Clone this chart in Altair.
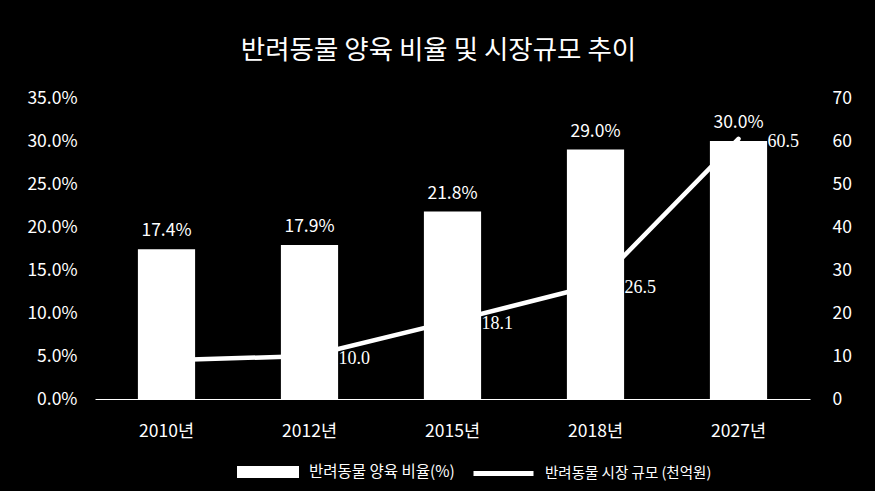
import altair as alt
import pandas as pd

years = ["2010년", "2012년", "2015년", "2018년", "2027년"]
ratio_pct = [17.4, 17.9, 21.8, 29.0, 30.0]
market = [9.0, 10.0, 18.1, 26.5, 60.5]
market_labels = ["", "10.0", "18.1", "26.5", "60.5"]
left_ticks = [0, 0.05, 0.10, 0.15, 0.20, 0.25, 0.30, 0.35]
right_ticks = [0, 10, 20, 30, 40, 50, 60, 70]
title_text = "반려동물 양육 비율 및 시장규모 추이"
series_bar = "반려동물 양육 비율(%)"
series_line = "반려동물 시장 규모 (천억원)"

df = pd.DataFrame({
    "year": years,
    "ratio": [v / 100 for v in ratio_pct],
    "market": market,
    "mlabel": market_labels,
    "s1": [series_bar] * len(years),
    "s2": [series_line] * len(years),
})

FONT = "Noto Sans CJK KR"
FS = 17.5
base = alt.Chart(df)

x = alt.X(
    "year:N", sort=years,
    scale=alt.Scale(paddingInner=0.6, paddingOuter=0.3),
    axis=alt.Axis(title=None, labelAngle=0, labelFontSize=FS, labelPadding=23,
                  ticks=False, domainColor="white", domainWidth=1,
                  labelColor="white", labelFont=FONT),
)

yl = alt.Y(
    "ratio:Q",
    scale=alt.Scale(domain=[0, 0.35], nice=False, zero=True),
    axis=alt.Axis(title=None, format=".1%", values=left_ticks, grid=False,
                  domain=False, ticks=False, labelPadding=18, labelFontSize=FS,
                  labelColor="white", labelFont=FONT),
)

yr = alt.Y(
    "market:Q",
    scale=alt.Scale(domain=[0, 70], nice=False, zero=True),
    axis=alt.Axis(title=None, orient="right", values=right_ticks, grid=False,
                  domain=False, ticks=False, labelPadding=22, labelFontSize=FS,
                  labelColor="white", labelFont=FONT),
)

bars = base.mark_bar().encode(
    x=x, y=yl,
    fill=alt.Fill("s1:N", scale=alt.Scale(range=["white"]),
                  legend=alt.Legend(title=None, orient="none", legendX=142, legendY=343,
                                    symbolType="M-1,-0.19H1V0.19H-1Z", symbolSize=3844,
                                    symbolStrokeWidth=0, labelFontSize=15.5, labelLimit=400,
                                    labelColor="white", labelFont=FONT, labelOffset=10)),
)
bar_text = base.mark_text(baseline="alphabetic", dy=-13, fontSize=FS, color="white",
                          font=FONT).encode(
    x=x, y=yl, text=alt.Text("ratio:Q", format=".1%"))

line = base.mark_line(strokeWidth=4.5, strokeCap="round", strokeJoin="round").encode(
    x=x, y=yr,
    stroke=alt.Stroke("s2:N", scale=alt.Scale(range=["white"]),
                      legend=alt.Legend(title=None, orient="none", legendX=376, legendY=343,
                                        symbolType="stroke", symbolSize=3600,
                                        symbolStrokeWidth=5, labelFontSize=14.5, labelLimit=400,
                                        labelColor="white", labelFont=FONT, labelOffset=9)),
)
line_text = base.mark_text(align="left", baseline="middle", dx=29, dy=3,
                           font="Liberation Serif", fontSize=18, color="white").encode(
    x=x, y=yr, text="mlabel:N")

left = alt.layer(bars, bar_text)
right = alt.layer(line_text, line)

chart = alt.layer(left, right).resolve_scale(
    y="independent", fill="independent", stroke="independent"
).properties(
    width=715, height=301,
    title=alt.TitleParams(title_text, fontSize=26.5, color="white", font=FONT,
                          fontWeight="normal", anchor="middle", dx=-14, offset=25),
    autosize=alt.AutoSizeParams(type="none"),
    padding={"left": 95, "top": 98, "right": 65, "bottom": 92},
    background="black",
).configure_view(stroke=None)

chart.save("out.html", embed_options={"renderer": "svg", "actions": False})
